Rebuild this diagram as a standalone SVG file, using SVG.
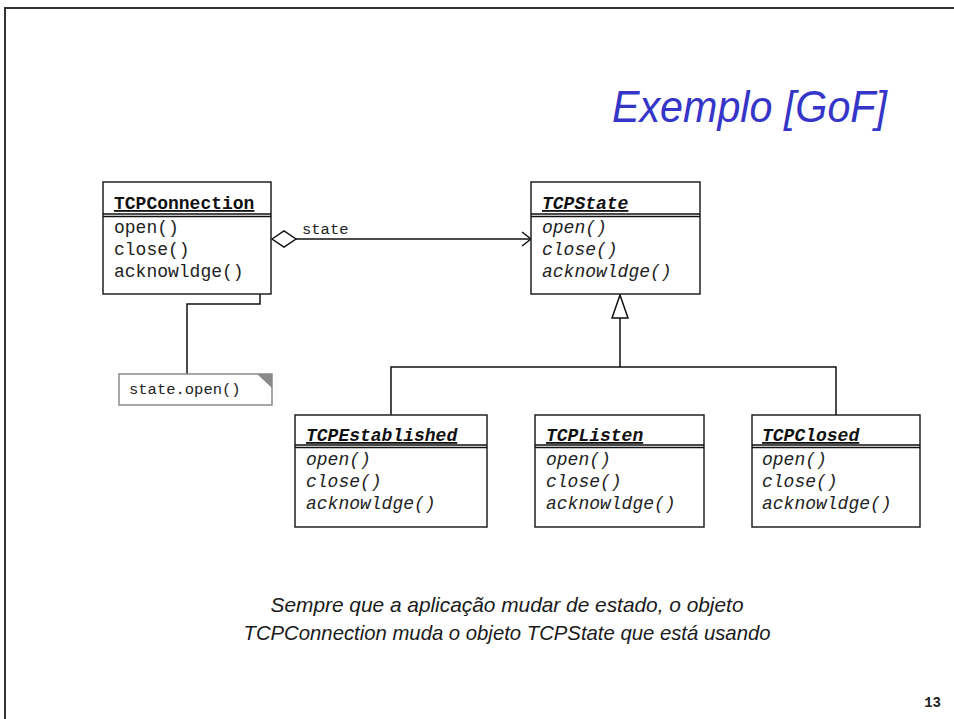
<svg xmlns="http://www.w3.org/2000/svg" width="954" height="719" viewBox="0 0 954 719">
<style>
.box{fill:#fff;stroke:#222;stroke-width:1.5}
.ln{fill:none;stroke:#111;stroke-width:1.5}
.hd{font-family:"Liberation Mono","Courier New",monospace;font-size:18px;font-weight:bold;text-decoration:underline;fill:#111}
.hdi{font-style:italic}
.m{font-family:"Liberation Mono","Courier New",monospace;font-size:18px;fill:#222}
.mi{font-style:italic}
.cap{font-family:"Liberation Sans",Arial,sans-serif;font-style:italic;font-size:21px;fill:#1a1a1a}
</style>
<rect x="0" y="0" width="954" height="719" fill="#fff"/>
<path d="M5 719 V8 H954" fill="none" stroke="#333" stroke-width="2"/>
<text x="612" y="122" font-family="'Liberation Sans',Arial,sans-serif" font-style="italic" font-size="44" fill="#3535c8" textLength="275" lengthAdjust="spacingAndGlyphs">Exemplo [GoF]</text>

<g id="connectors">
  <path class="ln" d="M296 239 H530"/>
  <path class="ln" d="M522 232 L531 239 L522 246"/>
  <polygon points="272,239 284,231 296,239 284,247" fill="#fff" stroke="#111" stroke-width="1.5"/>
  <text x="302" y="234" font-family="'Liberation Mono','Courier New',monospace" font-size="15.5" fill="#222">state</text>
  <circle cx="260" cy="231" r="3.5" fill="#fff" stroke="#111" stroke-width="1.3"/>
  <path class="ln" d="M260 234.5 V304 H187 V374"/>
  <path class="ln" d="M620 318 V367 M391 415 V367 H836 V415"/>
  <polygon points="620,295 612,318 628,318" fill="#fff" stroke="#111" stroke-width="1.5"/>
</g>

<g id="TCPConnection">
  <rect class="box" x="103" y="182" width="168" height="112"/>
  <path class="ln" d="M103 214 H271 M103 216.5 H271"/>
  <text class="hd" x="114" y="209">TCPConnection</text>
  <text class="m" x="114" y="233">open()</text>
  <text class="m" x="114" y="255">close()</text>
  <text class="m" x="114" y="277">acknowldge()</text>
</g>

<g id="TCPState">
  <rect class="box" x="531" y="182" width="169" height="112"/>
  <path class="ln" d="M531 214 H700 M531 216.5 H700"/>
  <text class="hd hdi" x="542" y="209">TCPState</text>
  <text class="m mi" x="542" y="233">open()</text>
  <text class="m mi" x="542" y="255">close()</text>
  <text class="m mi" x="542" y="277">acknowldge()</text>
</g>

<g id="note">
  <rect x="119" y="374" width="153" height="31" fill="#fff" stroke="#8a8a8a" stroke-width="1.5"/>
  <polygon points="257,374 272,374 272,388" fill="#8a8a8a"/>
  <text x="129" y="394" font-family="'Liberation Mono','Courier New',monospace" font-size="15.5" fill="#222">state.open()</text>
</g>

<g id="TCPEstablished">
  <rect class="box" x="295" y="415" width="192" height="112"/>
  <path class="ln" d="M295 445 H487 M295 447.5 H487"/>
  <text class="hd hdi" x="306" y="441">TCPEstablished</text>
  <text class="m mi" x="306" y="465">open()</text>
  <text class="m mi" x="306" y="487">close()</text>
  <text class="m mi" x="306" y="509">acknowldge()</text>
</g>

<g id="TCPListen">
  <rect class="box" x="535" y="415" width="169" height="112"/>
  <path class="ln" d="M535 445 H704 M535 447.5 H704"/>
  <text class="hd hdi" x="546" y="441">TCPListen</text>
  <text class="m mi" x="546" y="465">open()</text>
  <text class="m mi" x="546" y="487">close()</text>
  <text class="m mi" x="546" y="509">acknowldge()</text>
</g>

<g id="TCPClosed">
  <rect class="box" x="752" y="415" width="168" height="112"/>
  <path class="ln" d="M752 445 H920 M752 447.5 H920"/>
  <text class="hd hdi" x="762" y="441">TCPClosed</text>
  <text class="m mi" x="762" y="465">open()</text>
  <text class="m mi" x="762" y="487">close()</text>
  <text class="m mi" x="762" y="509">acknowldge()</text>
</g>

<text class="cap" x="507" y="612" text-anchor="middle" textLength="473" lengthAdjust="spacingAndGlyphs">Sempre que a aplicação mudar de estado, o objeto</text>
<text class="cap" x="507" y="640" text-anchor="middle" textLength="527" lengthAdjust="spacingAndGlyphs">TCPConnection muda o objeto TCPState que está usando</text>
<text x="941" y="707" text-anchor="end" font-family="'Liberation Mono','Courier New',monospace" font-weight="bold" font-size="14" fill="#222">13</text>
</svg>
